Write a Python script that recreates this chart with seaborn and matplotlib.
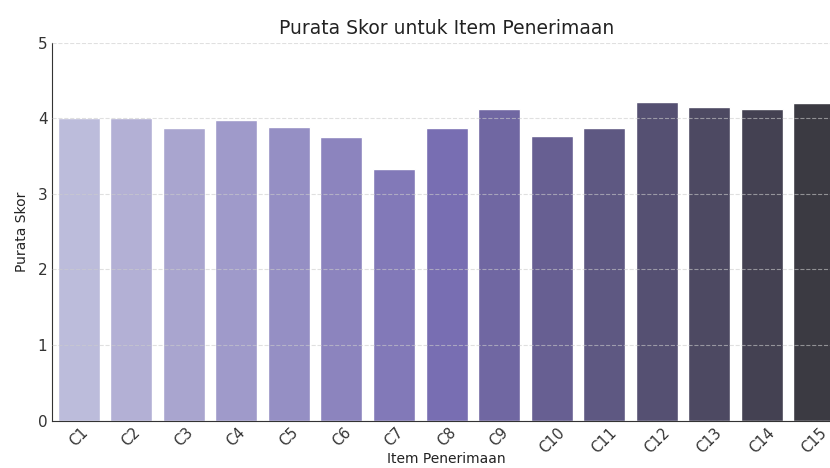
import matplotlib
matplotlib.use("Agg")
import matplotlib.pyplot as plt
import seaborn as sns
import pandas as pd

items = ["C1", "C2", "C3", "C4", "C5", "C6", "C7", "C8", "C9", "C10",
         "C11", "C12", "C13", "C14", "C15"]
scores = [4.00, 4.00, 3.875, 3.97, 3.89, 3.75, 3.33, 3.875, 4.125, 3.76,
          3.875, 4.22, 4.15, 4.12, 4.20]

sns.set_style("white")
plt.rcParams['font.family'] = ['DejaVu Sans']

df = pd.DataFrame({"Item": items, "Skor": scores})
palette = sns.color_palette("Purples_d", len(items))

fig = plt.figure(figsize=(8.3, 4.68), dpi=100)
ax = fig.add_axes([0.063, 0.101, 0.95, 0.808])
sns.barplot(data=df, x="Item", y="Skor", hue="Item", palette=palette,
            legend=False, ax=ax, width=0.8, saturation=1)

ax.set_ylim(0, 5)
ax.set_yticks([0, 1, 2, 3, 4, 5])
ax.yaxis.grid(True, linestyle="--", color="#cccccc", linewidth=0.8, alpha=0.6)
ax.set_axisbelow(False)
sns.despine(ax=ax)
ax.spines["left"].set_color("#333333")
ax.spines["bottom"].set_color("#333333")
ax.tick_params(axis="both", direction="in", length=3, colors="#333333", labelsize=11)
ax.tick_params(axis="x", pad=3, labelsize=10.5)
plt.setp(ax.get_xticklabels(), rotation=45)

ax.set_title("Purata Skor untuk Item Penerimaan", fontsize=13.5, color="#222222", pad=6)
ax.set_xlabel("Item Penerimaan", fontsize=10, color="#222222", labelpad=-3)
ax.set_ylabel("Purata Skor", fontsize=10, color="#222222", labelpad=6)

fig.savefig("out.png", dpi=100)
